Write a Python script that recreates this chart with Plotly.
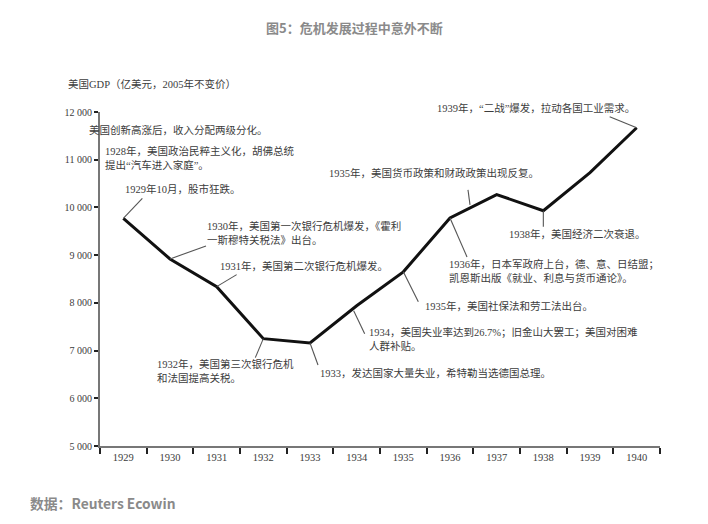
import plotly.graph_objects as go

# ---- data ----
years = ["1929", "1930", "1931", "1932", "1933", "1934", "1935", "1936", "1937", "1938", "1939", "1940"]
gdp = [9770, 8920, 8340, 7250, 7160, 7940, 8650, 9780, 10270, 9930, 10730, 11670]
ytick_vals = [5000, 6000, 7000, 8000, 9000, 10000, 11000, 12000]
ytick_text = ["5 000", "6 000", "7 000", "8 000", "9 000", "10 000", "11 000", "12 000"]

# leader lines: year the leader is attached to, start/end offsets in screen px (dy downward)
leader_years = ["1929", "1930", "1931", "1932", "1933", "1934", "1935", "1936", "1936", "1938", "1940"]
leader_sx = [0, 0, 0, 0, 0, -3, 0, 0, 20, 0, 0]
leader_sy = [0, 0, 0, 0, 0, 5, 0, 0, -13, 0, 0]
leader_ex = [19, 36, 20, -8, 8, 8, 15, 17, 18, 0, -27]
leader_ey = [-20, -13, -12, 19, 22, 28, 30, 39, -28, 16, -11]

# event texts: (lines, left px, first-line centre px)
event_texts = [
    (["美国创新高涨后，收入分配两级分化。"], 87, 130),
    (["1928年，美国政治民粹主义化，胡佛总统", "提出“汽车进入家庭”。"], 103, 150),
    (["1929年10月，股市狂跌。"], 123, 189),
    (["1930年，美国第一次银行危机爆发，《霍利", "一斯穆特关税法》出台。"], 205, 225),
    (["1931年，美国第二次银行危机爆发。"], 218, 266),
    (["1932年，美国第三次银行危机", "和法国提高关税。"], 155, 363),
    (["1933，发达国家大量失业，希特勒当选德国总理。"], 318, 373),
    (["1934，美国失业率达到26.7%；旧金山大罢工；美国对困难", "人群补贴。"], 367, 331),
    (["1935年，美国社保法和劳工法出台。"], 423, 306),
    (["1935年，美国货币政策和财政政策出现反复。"], 327, 173),
    (["1936年，日本军政府上台，德、意、日结盟；", "凯恩斯出版《就业、利息与货币通论》。"], 447, 263),
    (["1938年，美国经济二次衰退。"], 507, 234),
    (["1939年，“二战”爆发，拉动各国工业需求。"], 435, 108),
]

W, H = 708, 524
L, R, T, B = 100, 660, 112, 446  # plot area in px

def px(x):
    return (x - L) / (R - L)

def py(y):
    return (B - y) / (B - T)

SERIF = "Liberation Serif, 'Noto Sans CJK SC', serif"
TXT = "#3c3c3c"

fig = go.Figure()
fig.add_trace(go.Scatter(
    x=years, y=gdp, mode="lines",
    line=dict(color="#111111", width=3),
    hoverinfo="x+y", showlegend=False,
))

shapes = []
for yr, sx, sy, ex, ey in zip(leader_years, leader_sx, leader_sy, leader_ex, leader_ey):
    i = years.index(yr)
    shapes.append(dict(
        type="line", xref="x", yref="y",
        xsizemode="pixel", ysizemode="pixel",
        xanchor=i, yanchor=gdp[i],
        x0=sx, y0=-sy, x1=ex, y1=-ey,
        line=dict(color="#555555", width=1.1),
        layer="above",
    ))

annotations = []
for lines, lx, ly in event_texts:
    annotations.append(dict(
        x=px(lx), y=py(ly), xref="paper", yref="paper",
        xanchor="left", yanchor="top" if len(lines) > 1 else "middle",
        yshift=7 if len(lines) > 1 else 0,
        text="<br>".join(lines), showarrow=False, align="left",
        font=dict(family=SERIF, size=10.5, color=TXT),
    ))

# axis title
annotations.append(dict(
    x=px(66), y=py(84), xref="paper", yref="paper", xanchor="left", yanchor="middle",
    text="美国GDP（亿美元，2005年不变价）", showarrow=False,
    font=dict(family=SERIF, size=10.5, color=TXT),
))
# chart title
annotations.append(dict(
    x=px(354), y=py(27), xref="paper", yref="paper", xanchor="center", yanchor="middle",
    text="<b>图5：危机发展过程中意外不断</b>", showarrow=False,
    font=dict(family="'Noto Sans CJK SC', sans-serif", size=13, color="#8a8a8a"),
))
# source
annotations.append(dict(
    x=px(28), y=py(503), xref="paper", yref="paper", xanchor="left", yanchor="middle",
    text="<b>数据：Reuters Ecowin</b>", showarrow=False,
    font=dict(family="'Noto Sans CJK SC', sans-serif", size=13.8, color="#8a8a8a"),
))

fig.update_layout(
    width=W, height=H,
    margin=dict(l=L, r=W - R, t=T, b=H - B, pad=0),
    paper_bgcolor="white", plot_bgcolor="white",
    annotations=annotations, shapes=shapes,
    xaxis=dict(
        type="category", range=[-0.5, 11.5], tickson="boundaries",
        ticks="outside", ticklen=6, tickwidth=2, tickcolor="#222222",
        showline=True, linecolor="#777777", linewidth=2,
        showgrid=False, zeroline=False,
        tickfont=dict(family=SERIF, size=10.5, color=TXT),
    ),
    yaxis=dict(
        range=[5000, 12000], tickvals=ytick_vals, ticktext=ytick_text,
        ticks="outside", ticklen=4, tickwidth=2, tickcolor="#222222",
        showline=True, linecolor="#777777", linewidth=2,
        showgrid=False, zeroline=False,
        tickfont=dict(family=SERIF, size=10, color=TXT),
    ),
)

fig.write_html("out.html")
